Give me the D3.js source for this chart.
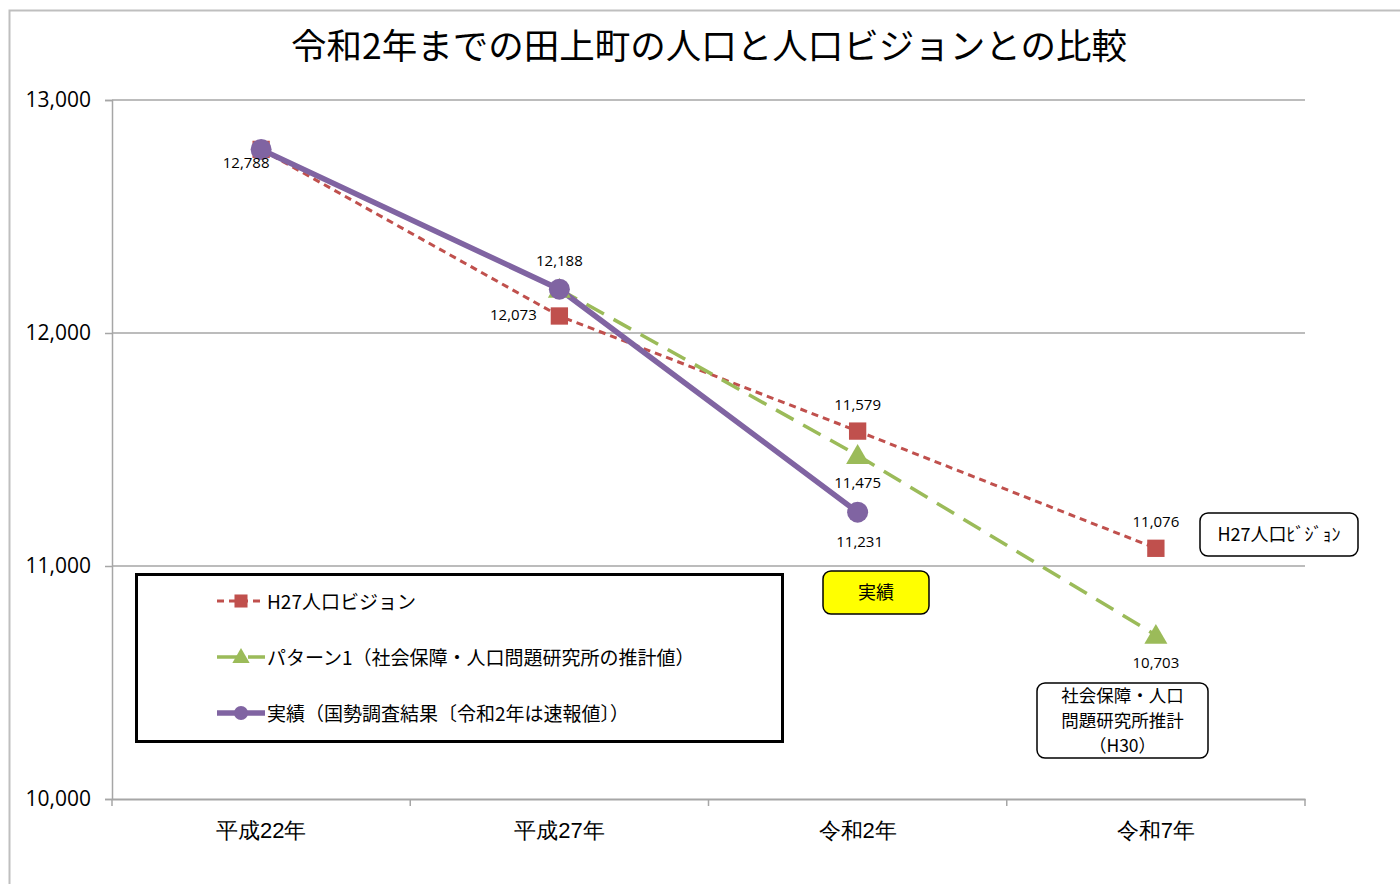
<!DOCTYPE html>
<html><head><meta charset="utf-8">
<script src="https://cdn.jsdelivr.net/npm/d3@7"></script>
<style>
html,body{margin:0;padding:0;background:#fff;overflow:hidden;}
svg{display:block;font-family:"Noto Sans CJK JP","Noto Sans",sans-serif;}
</style></head>
<body>
<script>
const categories = ["平成22年","平成27年","令和2年","令和7年"];
const visionValues = [12788, 12073, 11579, 11076];
const pattern1Values = [null, 12188, 11475, 10703];
const actualValues = [12788, 12188, 11231, null];
const yTicks = [10000, 11000, 12000, 13000];
const seriesNames = ["H27人口ビジョン","パターン1（社会保障・人口問題研究所の推計値）","実績（国勢調査結果〔令和2年は速報値〕）"];
const titleText = "令和2年までの田上町の人口と人口ビジョンとの比較";

(function(){
const W = 1400, H = 884;
const svg = d3.select("body").append("svg").attr("width", W).attr("height", H);

svg.append("rect").attr("x", 9.5).attr("y", 10.5).attr("width", 1400).attr("height", 900)
  .attr("fill", "none").attr("stroke", "#bfbfbf").attr("stroke-width", 2);

const pLeft = 112, pRight = 1305, pTop = 100, pBottom = 799;
const x = d3.scaleBand().domain(categories).range([pLeft, pRight]).paddingInner(0).paddingOuter(0);
const y = d3.scaleLinear().domain([10000, 13000]).range([pBottom, pTop]);
const cx = c => x(c) + x.bandwidth() / 2;

svg.append("text").attr("x", 709).attr("y", 59).attr("text-anchor", "middle")
  .attr("font-size", 35.5).attr("fill", "#000").text(titleText);

svg.append("g").selectAll("line").data(yTicks.filter(d => d > 10000)).join("line")
  .attr("x1", pLeft).attr("x2", pRight).attr("y1", d => y(d)).attr("y2", d => y(d))
  .attr("stroke", "#a6a6a6").attr("stroke-width", 1.5);

const yAxis = d3.axisLeft(y).tickValues(yTicks).tickFormat(d3.format(",")).tickSize(7).tickPadding(14);
const gy = svg.append("g").attr("transform", `translate(${pLeft},0)`).call(yAxis);
gy.select(".domain").attr("stroke", "#a6a6a6").attr("stroke-width", 1.5);
gy.selectAll(".tick line").attr("stroke", "#a6a6a6").attr("stroke-width", 1.5);
gy.selectAll("text").attr("font-size", 21).attr("fill", "#000").attr("font-family", "Open Sans, Noto Sans, sans-serif");

const xAxis = d3.axisBottom(x).tickSize(0).tickPadding(23);
const gx = svg.append("g").attr("transform", `translate(0,${pBottom})`).call(xAxis);
gx.select(".domain").attr("stroke", "#a6a6a6").attr("stroke-width", 2);
gx.selectAll("text").attr("font-size", 22).attr("fill", "#000");
const bounds = categories.map(c => x(c)).concat([pRight]);
svg.append("g").selectAll("line").data(bounds).join("line")
  .attr("x1", d => d).attr("x2", d => d).attr("y1", pBottom).attr("y2", pBottom + 7)
  .attr("stroke", "#a6a6a6").attr("stroke-width", 1.5);

const red = "#c0504d", green = "#9bbb59", purple = "#8064a2";

function series(vals, color, width, dash) {
  const pts = categories.map((c, i) => ({c, v: vals[i]}));
  const line = d3.line().defined(d => d.v != null).x(d => cx(d.c)).y(d => y(d.v));
  svg.append("path").datum(pts).attr("d", line).attr("fill", "none")
    .attr("stroke", color).attr("stroke-width", width).attr("stroke-dasharray", dash);
  return pts.filter(d => d.v != null);
}

const visPts = series(visionValues, red, 3, "7,5");
const patPts = series(pattern1Values, green, 3.5, "20,11");
const actPts = series(actualValues, purple, 5.5, null);

const sym = (type, size) => d3.symbol().type(type).size(size)();
svg.append("g").selectAll("path").data(visPts).join("path")
  .attr("transform", d => `translate(${cx(d.c)},${y(d.v)})`).attr("d", sym(d3.symbolSquare, 300)).attr("fill", red);
svg.append("g").selectAll("path").data(patPts).join("path")
  .attr("transform", d => `translate(${cx(d.c)},${y(d.v)+2})`).attr("d", sym(d3.symbolTriangle, 230)).attr("fill", green);
svg.append("g").selectAll("circle").data(actPts).join("circle")
  .attr("cx", d => cx(d.c)).attr("cy", d => y(d.v)).attr("r", 10.5).attr("fill", purple);

const fmt = d3.format(",");
const labels = [
  {c: categories[0], v: visionValues[0], dx: -15, dy: 15},
  {c: categories[1], v: actualValues[1], dx: 0, dy: -27},
  {c: categories[1], v: visionValues[1], dx: -46, dy: 0},
  {c: categories[2], v: visionValues[2], dx: 0, dy: -25},
  {c: categories[2], v: pattern1Values[2], dx: 0, dy: 29},
  {c: categories[2], v: actualValues[2], dx: 2, dy: 31},
  {c: categories[3], v: visionValues[3], dx: 0, dy: -25},
  {c: categories[3], v: pattern1Values[3], dx: 0, dy: 29}
];
svg.append("g").selectAll("text").data(labels).join("text")
  .attr("x", d => cx(d.c) + d.dx).attr("y", d => y(d.v) + d.dy)
  .attr("text-anchor", "middle").attr("dominant-baseline", "middle")
  .attr("font-size", 15).attr("fill", "#000").attr("font-family", "Open Sans, Noto Sans, sans-serif")
  .text(d => fmt(d.v));

svg.append("rect").attr("x", 136.5).attr("y", 574.5).attr("width", 646).attr("height", 167)
  .attr("fill", "#fff").attr("stroke", "#000").attr("stroke-width", 3);
const legY = [601, 657, 713];
const lg = svg.append("g");
lg.append("line").attr("x1", 217).attr("x2", 265).attr("y1", legY[0]).attr("y2", legY[0])
  .attr("stroke", red).attr("stroke-width", 3).attr("stroke-dasharray", "7,5");
lg.append("path").attr("transform", `translate(241,${legY[0]})`).attr("d", sym(d3.symbolSquare, 170)).attr("fill", red);
lg.append("line").attr("x1", 217).attr("x2", 265).attr("y1", legY[1]).attr("y2", legY[1])
  .attr("stroke", green).attr("stroke-width", 3.5).attr("stroke-dasharray", "20,11");
lg.append("path").attr("transform", `translate(241,${legY[1]+1})`).attr("d", sym(d3.symbolTriangle, 130)).attr("fill", green);
lg.append("line").attr("x1", 217).attr("x2", 265).attr("y1", legY[2]).attr("y2", legY[2])
  .attr("stroke", purple).attr("stroke-width", 5.5);
lg.append("circle").attr("cx", 241).attr("cy", legY[2]).attr("r", 7).attr("fill", purple);
lg.selectAll("text").data(seriesNames).join("text")
  .attr("x", 267).attr("y", (d, i) => legY[i] + 3).attr("dominant-baseline", "middle")
  .attr("font-size", 19).attr("fill", "#000").text(d => d);

function box(x0, y0, w, h, fill, lines, fs, lh) {
  svg.append("rect").attr("x", x0).attr("y", y0).attr("width", w).attr("height", h)
    .attr("rx", 8).attr("ry", 8).attr("fill", fill).attr("stroke", "#000").attr("stroke-width", 1.5);
  const startY = y0 + h / 2 - (lines.length - 1) * lh / 2 + 2;
  lines.forEach((t, i) => {
    svg.append("text").attr("x", x0 + w / 2).attr("y", startY + i * lh)
      .attr("text-anchor", "middle").attr("dominant-baseline", "middle")
      .attr("font-size", fs).attr("fill", "#000").text(t);
  });
}
box(823, 571, 106, 43, "#ffff00", ["実績"], 18, 0);
box(1200, 513, 158, 43, "#fff", ["H27人口ﾋﾞｼﾞｮﾝ"], 18, 0);
box(1037, 683, 171, 75, "#fff", ["社会保障・人口", "問題研究所推計", "（H30）"], 17.5, 25);
})();
</script>
</body></html>
